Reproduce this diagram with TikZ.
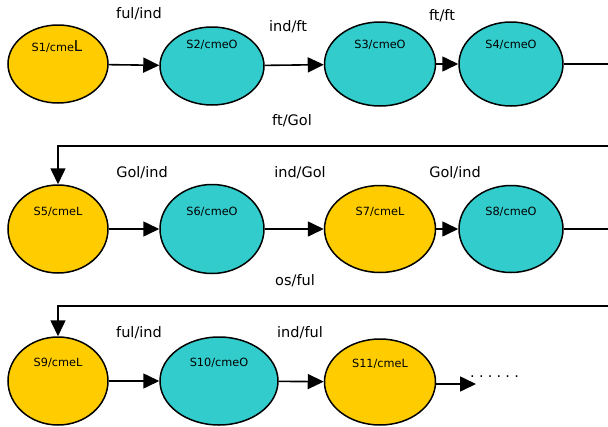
\documentclass[tikz,border=0pt]{standalone}
\usepackage{fontspec}
\setmainfont{DejaVu Sans}
\usetikzlibrary{shapes.geometric,arrows.meta}
\definecolor{stgold}{HTML}{FFCC00}
\definecolor{stteal}{HTML}{33CCCC}
\begin{document}
\begin{tikzpicture}[x=1pt,y=-1pt,
  st/.style={ellipse,draw=black,line width=1.5pt,inner sep=0pt},
  goldst/.style={st,fill=stgold},
  tealst/.style={st,fill=stteal},
  sz/.style 2 args={minimum width=#1pt,minimum height=#2pt},
  nt/.style={font=\fontsize{11.3}{13}\selectfont,inner sep=0pt},
  lab/.style={font=\fontsize{14.5}{17}\selectfont,inner sep=0pt},
  arr/.style={line width=1.6pt,-{Triangle[length=16pt,width=15pt]}},
  ln/.style={line width=1.6pt}
]
\useasboundingbox (0,0) rectangle (608,426);
\clip (0,0) rectangle (608,426);
% row 1
\node[goldst,sz={100}{78}] (S1) at (58,64) {};
\node[tealst,sz={104}{78}] (S2) at (212,66) {};
\node[tealst,sz={111}{84}] (S3) at (380,64) {};
\node[tealst,sz={104}{84}] (S4) at (511,64) {};
\node[nt] (t1) at (57,47) {S1/cme{\fontsize{15}{17}\selectfont L}};
\node[nt] (t2) at (212,45) {S2/cmeO};
\node[nt] (t3) at (380,45) {S3/cmeO};
\node[nt] (t4) at (511,45) {S4/cmeO};
% row 2
\node[goldst,sz={100}{88}] (S5) at (58,229) {};
\node[tealst,sz={104}{89}] (S6) at (212,229) {};
\node[goldst,sz={111}{87}] (S7) at (380,229) {};
\node[tealst,sz={104}{87}] (S8) at (511,229) {};
\node[nt] (t5) at (58,212) {S5/cmeL};
\node[nt] (t6) at (212,212) {S6/cmeO};
\node[nt] (t7) at (380,212) {S7/cmeL};
\node[nt] (t8) at (511,212) {S8/cmeO};
% row 3
\node[goldst,sz={100}{88}] (S9) at (58,381) {};
\node[tealst,sz={118}{88}] (S10) at (219,381) {};
\node[goldst,sz={111}{86}] (S11) at (380,382) {};
\node[nt] (t9) at (58,363) {S9/cmeL};
\node[nt] (t10) at (219,363) {S10/cmeO};
\node[nt] (t11) at (380,364) {S11/cmeL};
% edge labels
\node[lab] (l1) at (139,14) {ful/ind};
\node[lab] (l2) at (288,27) {ind/ft};
\node[lab] (l3) at (442,16) {ft/ft};
\node[lab] (l4) at (292,121) {ft/Gol};
\node[lab] (l5) at (142,173) {Gol/ind};
\node[lab] (l6) at (300,173) {ind/Gol};
\node[lab] (l7) at (455,173) {Gol/ind};
\node[lab] (l8) at (295,281) {os/ful};
\node[lab] (l9) at (139,333) {ful/ind};
\node[lab] (l10) at (300,333) {ind/ful};
% coordinates off the right edge
\coordinate (e1) at (620,64);
\coordinate (e2) at (620,146);
\coordinate (e3) at (620,229);
\coordinate (e4) at (620,306);
\coordinate (d) at (476,384);
% connectors
\draw[arr] (S1) -- (S2);
\draw[arr] (S2) -- (S3);
\draw[arr] (S3) -- (S4);
\draw[ln] (S4) -- (e1);
\draw[arr] (e2) -| (S5);
\draw[arr] (S5) -- (S6);
\draw[arr] (S6) -- (S7);
\draw[arr] (S7) -- (S8);
\draw[ln] (S8) -- (e3);
\draw[arr] (e4) -| (S9);
\draw[arr] (S9) -- (S10);
\draw[arr] (S10) -- (S11);
\draw[arr] (S11.east |- d) -- (d);
\node[lab,anchor=west] (dots) at (470,377) {.\hspace{4.2pt}.\hspace{4.2pt}.\hspace{4.2pt}.\hspace{4.2pt}.\hspace{4.2pt}.};
\end{tikzpicture}
\end{document}
